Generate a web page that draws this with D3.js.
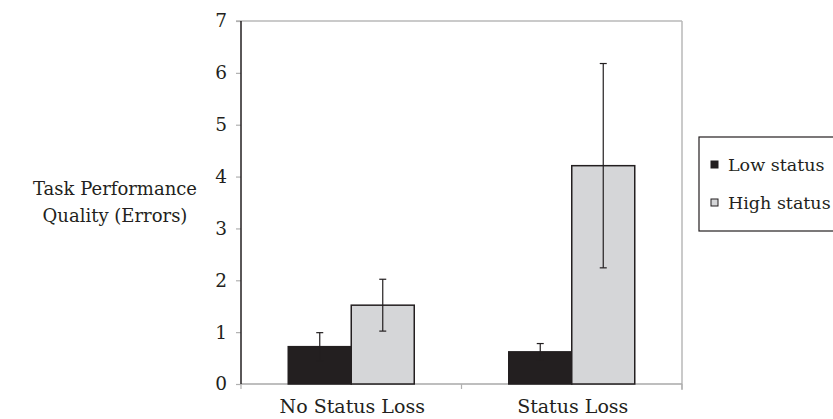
<!DOCTYPE html>
<html lang="en">
<head>
  <meta charset="UTF-8">
  <title>Task Performance Quality</title>
  <script src="https://d3js.org/d3.v7.min.js"></script>
  <style>
    body { margin: 0; background: white; }
    svg { display: block; font-family: "DejaVu Serif", serif; }
  </style>
</head>
<body>
  <div id="chart"></div>
  <script>
    // data
    const categories = ["No Status Loss", "Status Loss"];
    const groups = ["Low status", "High status"];
    const lowMeans = [0.72, 0.62];
    const lowErrors = [0.27, 0.16];
    const highMeans = [1.52, 4.21];
    const highErrors = [0.50, 1.97];
    const yTicks = [0, 1, 2, 3, 4, 5, 6, 7];

    const width = 833, height = 419;
    const plot = { left: 241, right: 682, top: 21, bottom: 384 };
    const fills = ["#231f20", "#d5d6d8"];
    const ink = "#231f20";

    const svg = d3.select("#chart").append("svg")
      .attr("width", width)
      .attr("height", height);

    const x = d3.scaleBand().domain(categories).range([plot.left, plot.right]);
    const xInner = d3.scaleBand().domain(groups).range([0, 126]);
    const y = d3.scaleLinear().domain([0, 7]).range([plot.bottom, plot.top]);

    // frame: gray top and right
    svg.append("line").attr("x1", plot.left - 5).attr("x2", plot.right)
      .attr("y1", plot.top).attr("y2", plot.top)
      .attr("stroke", "#b8b8b8").attr("stroke-width", 1.5);
    svg.append("line").attr("x1", plot.right).attr("x2", plot.right)
      .attr("y1", plot.top).attr("y2", plot.bottom + 6)
      .attr("stroke", "#b8b8b8").attr("stroke-width", 1.5);

    // bottom axis
    svg.append("line").attr("x1", plot.left).attr("x2", plot.right)
      .attr("y1", plot.bottom).attr("y2", plot.bottom)
      .attr("stroke", "#a8a8a8").attr("stroke-width", 1.5);
    const bounds = [plot.left, x(categories[1]), plot.right];
    svg.selectAll(".xtick").data(bounds).enter().append("line")
      .attr("x1", d => d).attr("x2", d => d)
      .attr("y1", plot.bottom).attr("y2", plot.bottom + 5)
      .attr("stroke", "#b0b0b0").attr("stroke-width", 1.2);

    svg.selectAll(".xlabel").data(categories).enter().append("text")
      .attr("x", d => x(d) + x.bandwidth() / 2 + 1)
      .attr("y", 413)
      .attr("text-anchor", "middle")
      .attr("font-size", 19)
      .attr("fill", ink)
      .text(d => d);

    // y axis
    const yAxis = svg.append("g")
      .attr("transform", `translate(${plot.left},0)`)
      .call(d3.axisLeft(y).tickValues(yTicks).tickSize(5).tickPadding(9).tickFormat(d3.format("d")));
    yAxis.select(".domain").remove();
    yAxis.selectAll(".tick line").attr("stroke", "#b0b0b0").attr("stroke-width", 1.2);
    yAxis.selectAll(".tick text")
      .attr("font-family", "DejaVu Serif, serif")
      .attr("font-size", 18.5)
      .attr("fill", ink);
    svg.append("line").attr("x1", plot.left).attr("x2", plot.left)
      .attr("y1", plot.top).attr("y2", plot.bottom)
      .attr("stroke", ink).attr("stroke-width", 1.5);

    // y title
    const title = svg.append("text")
      .attr("text-anchor", "middle")
      .attr("font-size", 18)
      .attr("fill", ink);
    title.append("tspan").attr("x", 115).attr("y", 195).text("Task Performance");
    title.append("tspan").attr("x", 115).attr("y", 222).text("Quality (Errors)");

    // bars
    const rows = [];
    categories.forEach((c, i) => {
      rows.push({ cat: c, grp: groups[0], v: lowMeans[i], e: lowErrors[i], fill: fills[0] });
      rows.push({ cat: c, grp: groups[1], v: highMeans[i], e: highErrors[i], fill: fills[1] });
    });
    const offset = (x.bandwidth() - 126) / 2;

    svg.selectAll(".bar").data(rows).enter().append("rect")
      .attr("x", d => x(d.cat) + offset + xInner(d.grp))
      .attr("y", d => y(d.v))
      .attr("width", xInner.bandwidth())
      .attr("height", d => y(0) - y(d.v))
      .attr("fill", d => d.fill)
      .attr("stroke", ink)
      .attr("stroke-width", 1.5);

    // error bars
    const cx = d => x(d.cat) + offset + xInner(d.grp) + xInner.bandwidth() / 2;
    const eb = svg.selectAll(".err").data(rows).enter().append("g").attr("stroke", ink).attr("stroke-width", 1.2);
    eb.append("line").attr("x1", cx).attr("x2", cx)
      .attr("y1", d => y(d.v - d.e)).attr("y2", d => y(d.v + d.e));
    eb.append("line").attr("x1", d => cx(d) - 3.5).attr("x2", d => cx(d) + 3.5)
      .attr("y1", d => y(d.v + d.e)).attr("y2", d => y(d.v + d.e));
    eb.append("line").attr("x1", d => cx(d) - 3.5).attr("x2", d => cx(d) + 3.5)
      .attr("y1", d => y(d.v - d.e)).attr("y2", d => y(d.v - d.e));

    // legend
    svg.append("rect").attr("x", 699).attr("y", 137).attr("width", 160).attr("height", 94)
      .attr("fill", "white").attr("stroke", ink).attr("stroke-width", 1.2);
    const leg = svg.selectAll(".leg").data(groups).enter().append("g")
      .attr("transform", (d, i) => `translate(711,${166 + i * 38})`);
    leg.append("rect").attr("x", 0).attr("y", -5).attr("width", 7).attr("height", 7)
      .attr("fill", (d, i) => fills[i]).attr("stroke", ink).attr("stroke-width", 1);
    leg.append("text").attr("x", 17).attr("y", 5)
      .attr("font-size", 17.5).attr("fill", ink).text(d => d);
  </script>
</body>
</html>
